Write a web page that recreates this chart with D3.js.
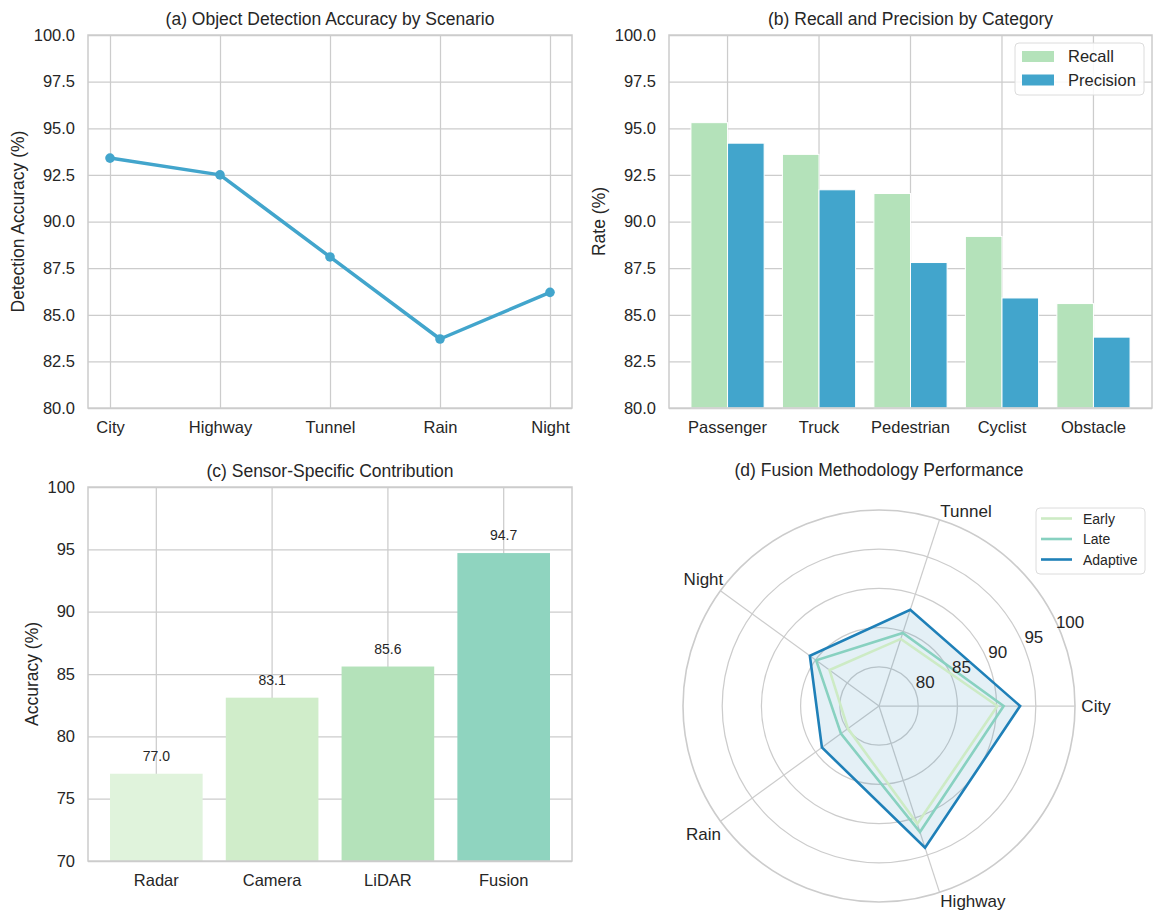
<!DOCTYPE html>
<html>
<head>
<meta charset="utf-8">
<script src="https://cdn.jsdelivr.net/npm/d3@7"></script>
<style>
  html, body { margin: 0; padding: 0; background: #ffffff; }
  svg { display: block; }
  text { font-family: "Liberation Sans", Arial, Helvetica, sans-serif; fill: #262626; }
</style>
</head>
<body>
<svg id="fig" width="1158" height="910"></svg>
<script>
// ---- data ----
const scenarios = ["City", "Highway", "Tunnel", "Rain", "Night"];
const scenarioAccuracy = [93.4, 92.5, 88.1, 83.7, 86.2];

const categories = ["Passenger", "Truck", "Pedestrian", "Cyclist", "Obstacle"];
const recall = [95.3, 93.6, 91.5, 89.2, 85.6];
const precision = [94.2, 91.7, 87.8, 85.9, 83.8];
const rateSeries = ["Recall", "Precision"];

const sensors = ["Radar", "Camera", "LiDAR", "Fusion"];
const sensorAccuracy = [77.0, 83.1, 85.6, 94.7];

const radarAxes = ["City", "Tunnel", "Night", "Rain", "Highway"];
const fusionMethods = ["Early", "Late", "Adaptive"];
const earlyFusion = [90.1, 84.0, 82.8, 79.9, 90.8];
const lateFusion = [90.9, 84.8, 84.9, 81.0, 91.9];
const adaptiveFusion = [93.0, 87.9, 85.9, 84.0, 94.0];

const ticksA = [80, 82.5, 85, 87.5, 90, 92.5, 95, 97.5, 100];
const ticksC = [70, 75, 80, 85, 90, 95, 100];
const ticksR = [80, 85, 90, 95, 100];

// ---- styling ----
const GRID = "#cccccc";
const LINE_BLUE = "#42a5cc";
const RECALL_C = "#b4e2ba";
const PREC_C = "#42a5cc";
const SENSOR_C = ["#e0f3dc", "#d0edca", "#b4e2ba", "#8fd4bf"];
const FUSION_C = ["#cdebc5", "#88d1c0", "#1f80b8"];
const TICK_FS = "16.5px";
const TITLE_FS = "17.5px";

const svg = d3.select("#fig");

function styleAxis(g) {
  g.select(".domain").remove();
  g.selectAll(".tick line").attr("stroke", GRID).attr("stroke-width", 1.25);
  g.selectAll(".tick text").style("font-size", TICK_FS).attr("fill", "#262626");
}

function frame(g, x0, y0, x1, y1) {
  g.append("rect")
    .attr("x", x0).attr("y", y0)
    .attr("width", x1 - x0).attr("height", y1 - y0)
    .attr("fill", "none").attr("stroke", GRID).attr("stroke-width", 1.5);
}

// ===== (a) line chart =====
{
  const L = 88, R = 572, T = 35, B = 408;
  const x = d3.scalePoint().domain(scenarios).range([L, R]).padding(0.2);
  const y = d3.scaleLinear().domain([80, 100]).range([B, T]);
  const g = svg.append("g");

  g.append("g").attr("transform", `translate(${L},0)`)
    .call(d3.axisLeft(y).tickValues(ticksA).tickFormat(d3.format(".1f"))
      .tickSize(-(R - L)).tickPadding(13))
    .call(styleAxis);
  g.append("g").attr("transform", `translate(0,${B})`)
    .call(d3.axisBottom(x).tickSize(-(B - T)).tickPadding(13))
    .call(styleAxis);
  frame(g, L, T, R, B);

  const pts = scenarios.map((s, i) => [x(s), y(scenarioAccuracy[i])]);
  g.append("path").datum(pts)
    .attr("d", d3.line())
    .attr("fill", "none").attr("stroke", LINE_BLUE)
    .attr("stroke-width", 3.5).attr("stroke-linejoin", "round");
  g.selectAll("circle.pt").data(pts).join("circle")
    .attr("cx", d => d[0]).attr("cy", d => d[1]).attr("r", 4.8)
    .attr("fill", LINE_BLUE);

  g.append("text").attr("x", (L + R) / 2).attr("y", T - 10)
    .attr("text-anchor", "middle").style("font-size", TITLE_FS)
    .text("(a) Object Detection Accuracy by Scenario");
  g.append("text")
    .attr("transform", `translate(24,${(T + B) / 2}) rotate(-90)`)
    .attr("text-anchor", "middle").style("font-size", TITLE_FS)
    .text("Detection Accuracy (%)");
}

// ===== (b) grouped bars =====
{
  const L = 669, R = 1152, T = 35, B = 408;
  const x = d3.scaleBand().domain(categories).range([L, R])
    .paddingInner(0.2).paddingOuter(0.24);
  const xs = d3.scaleBand().domain(rateSeries).range([0, x.bandwidth()]);
  const y = d3.scaleLinear().domain([80, 100]).range([B, T]);
  const g = svg.append("g");

  g.append("g").attr("transform", `translate(${L},0)`)
    .call(d3.axisLeft(y).tickValues(ticksA).tickFormat(d3.format(".1f"))
      .tickSize(-(R - L)).tickPadding(13))
    .call(styleAxis);
  g.append("g").attr("transform", `translate(0,${B})`)
    .call(d3.axisBottom(x).tickSize(-(B - T)).tickPadding(13))
    .call(styleAxis);

  const rows = categories.map((c, i) => ({ c, Recall: recall[i], Precision: precision[i] }));
  const colors = { Recall: RECALL_C, Precision: PREC_C };
  rateSeries.forEach(s => {
    g.selectAll(null).data(rows).join("rect")
      .attr("x", d => x(d.c) + xs(s))
      .attr("width", xs.bandwidth())
      .attr("y", d => y(d[s]))
      .attr("height", d => B - y(d[s]))
      .attr("fill", colors[s])
      .attr("stroke", "#ffffff").attr("stroke-width", 1);
  });
  frame(g, L, T, R, B);

  // legend
  const lg = g.append("g");
  lg.append("rect").attr("x", 1015).attr("y", 43).attr("width", 129).attr("height", 52)
    .attr("rx", 4).attr("fill", "#ffffff").attr("fill-opacity", 0.85)
    .attr("stroke", "#dcdcdc").attr("stroke-width", 1);
  rateSeries.forEach((s, i) => {
    const cy = 56.5 + i * 23.5;
    lg.append("rect").attr("x", 1022).attr("y", cy - 5.5).attr("width", 32).attr("height", 11)
      .attr("fill", colors[s]);
    lg.append("text").attr("x", 1068).attr("y", cy).attr("dy", "0.36em")
      .style("font-size", TICK_FS).text(s);
  });

  g.append("text").attr("x", (L + R) / 2).attr("y", T - 10)
    .attr("text-anchor", "middle").style("font-size", TITLE_FS)
    .text("(b) Recall and Precision by Category");
  g.append("text")
    .attr("transform", `translate(605,${(T + B) / 2}) rotate(-90)`)
    .attr("text-anchor", "middle").style("font-size", TITLE_FS)
    .text("Rate (%)");
}

// ===== (c) sensor bars =====
{
  const L = 88, R = 572, T = 487, B = 861;
  const x = d3.scaleBand().domain(sensors).range([L, R])
    .paddingInner(0.2).paddingOuter(0.19);
  const y = d3.scaleLinear().domain([70, 100]).range([B, T]);
  const g = svg.append("g");

  g.append("g").attr("transform", `translate(${L},0)`)
    .call(d3.axisLeft(y).tickValues(ticksC).tickFormat(d3.format("d"))
      .tickSize(-(R - L)).tickPadding(13))
    .call(styleAxis);
  g.append("g").attr("transform", `translate(0,${B})`)
    .call(d3.axisBottom(x).tickSize(-(B - T)).tickPadding(13))
    .call(styleAxis);

  g.selectAll(null).data(sensors).join("rect")
    .attr("x", d => x(d)).attr("width", x.bandwidth())
    .attr("y", (d, i) => y(sensorAccuracy[i]))
    .attr("height", (d, i) => B - y(sensorAccuracy[i]))
    .attr("fill", (d, i) => SENSOR_C[i]);
  g.selectAll(null).data(sensors).join("text")
    .attr("x", d => x(d) + x.bandwidth() / 2)
    .attr("y", (d, i) => y(sensorAccuracy[i]) - 13)
    .attr("text-anchor", "middle").style("font-size", "14px")
    .text((d, i) => d3.format(".1f")(sensorAccuracy[i]));
  frame(g, L, T, R, B);

  g.append("text").attr("x", (L + R) / 2).attr("y", T - 10)
    .attr("text-anchor", "middle").style("font-size", TITLE_FS)
    .text("(c) Sensor-Specific Contribution");
  g.append("text")
    .attr("transform", `translate(38,${(T + B) / 2}) rotate(-90)`)
    .attr("text-anchor", "middle").style("font-size", TITLE_FS)
    .text("Accuracy (%)");
}

// ===== (d) radar =====
{
  const cx = 879, cy = 706, RMAX = 196;
  const r = d3.scaleLinear().domain([75, 100]).range([0, RMAX]);
  // compass angle for d3.lineRadial (0 = up, clockwise); axes run counter-clockwise from east
  const step = 2 * Math.PI / radarAxes.length;
  const ang = i => Math.PI / 2 - i * step;
  const g = svg.append("g").attr("transform", `translate(${cx},${cy})`);

  // rings
  g.selectAll(null).data(ticksR).join("circle")
    .attr("r", d => r(d)).attr("fill", "none")
    .attr("stroke", GRID).attr("stroke-width", d => d === 100 ? 1.6 : 1.25);
  // spokes
  g.selectAll(null).data(radarAxes).join("line")
    .attr("x1", 0).attr("y1", 0)
    .attr("x2", (d, i) => RMAX * Math.sin(ang(i)))
    .attr("y2", (d, i) => -RMAX * Math.cos(ang(i)))
    .attr("stroke", GRID).attr("stroke-width", 1.25);

  const radial = d3.lineRadial()
    .angle((d, i) => ang(i)).radius(d => r(d))
    .curve(d3.curveLinearClosed);

  const seriesVals = [earlyFusion, lateFusion, adaptiveFusion];
  g.append("path").attr("d", radial(adaptiveFusion))
    .attr("fill", FUSION_C[2]).attr("fill-opacity", 0.12).attr("stroke", "none");
  seriesVals.forEach((vals, k) => {
    g.append("path").attr("d", radial(vals))
      .attr("fill", "none").attr("stroke", FUSION_C[k])
      .attr("stroke-width", 2.6).attr("stroke-linejoin", "miter");
  });

  // radial tick labels along 22.5 degrees
  const labA = 22.5 * Math.PI / 180;
  g.selectAll(null).data(ticksR).join("text")
    .attr("x", d => r(d) * Math.cos(labA) + 10)
    .attr("y", d => -r(d) * Math.sin(labA) - 9)
    .attr("dy", "0.36em").attr("text-anchor", "middle")
    .style("font-size", "17px").text(d => d);

  // axis labels: side labels centred on the spoke direction,
  // labels near the vertical start at the spoke and sit a little closer in
  const labelPos = i => {
    const sx = Math.sin(ang(i)), sy = -Math.cos(ang(i));
    const nearVertical = Math.abs(sy) > 0.9;
    const rr = nearVertical ? 205 : 217;
    return { x: rr * sx - (nearVertical ? 2 : 0), y: rr * sy, anchor: nearVertical ? "start" : "middle" };
  };
  g.selectAll(null).data(radarAxes).join("text")
    .attr("x", (d, i) => labelPos(i).x)
    .attr("y", (d, i) => labelPos(i).y)
    .attr("dy", "0.36em").attr("text-anchor", (d, i) => labelPos(i).anchor)
    .style("font-size", "17px").text(d => d);

  svg.append("text").attr("x", cx).attr("y", 476)
    .attr("text-anchor", "middle").style("font-size", TITLE_FS)
    .text("(d) Fusion Methodology Performance");

  // legend
  const lg = svg.append("g");
  lg.append("rect").attr("x", 1036).attr("y", 508).attr("width", 109).attr("height", 66)
    .attr("rx", 4).attr("fill", "#ffffff").attr("fill-opacity", 0.85)
    .attr("stroke", "#dcdcdc").attr("stroke-width", 1);
  fusionMethods.forEach((m, i) => {
    const yy = 518.5 + i * 20.5;
    lg.append("line").attr("x1", 1041).attr("x2", 1072).attr("y1", yy).attr("y2", yy)
      .attr("stroke", FUSION_C[i]).attr("stroke-width", 2.6);
    lg.append("text").attr("x", 1083).attr("y", yy).attr("dy", "0.36em")
      .style("font-size", "14px").text(m);
  });
}
</script>
</body>
</html>
